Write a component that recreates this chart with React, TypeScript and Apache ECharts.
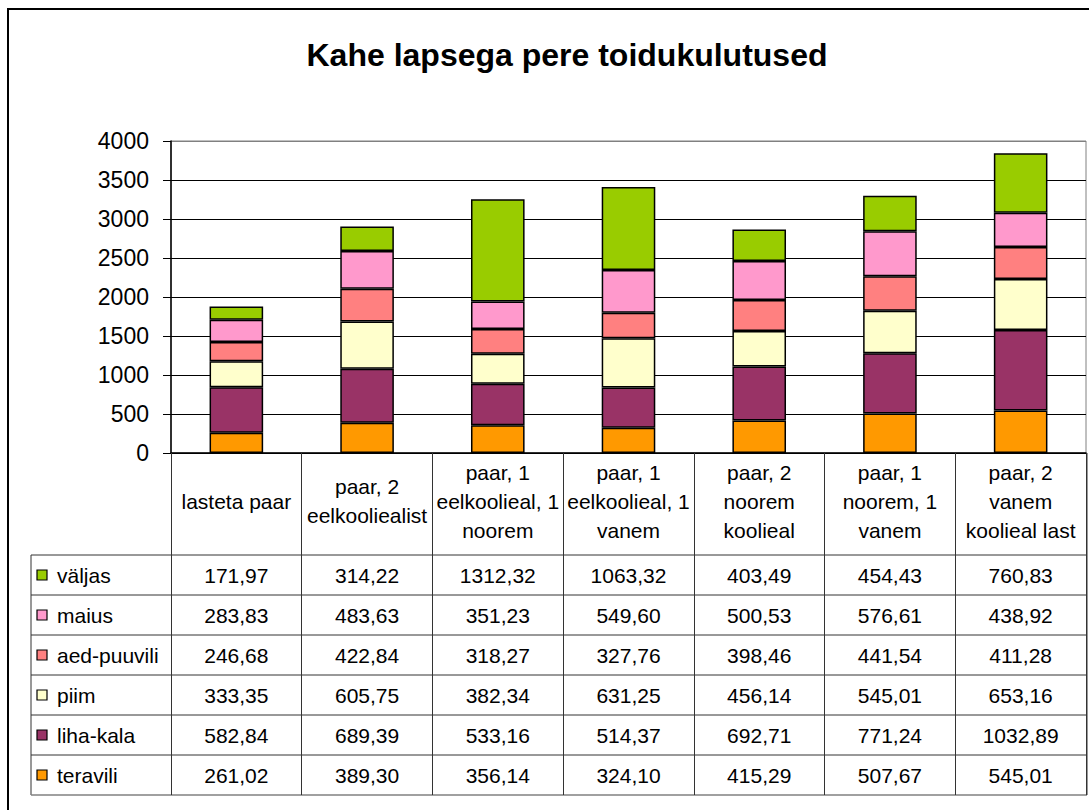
import React, { useEffect, useRef } from "react";
import * as echarts from "echarts";

const categories = [
  "lasteta paar",
  "paar, 2\neelkooliealist",
  "paar, 1\neelkoolieal, 1\nnoorem",
  "paar, 1\neelkoolieal, 1\nvanem",
  "paar, 2\nnoorem\nkoolieal",
  "paar, 1\nnoorem, 1\nvanem",
  "paar, 2\nvanem\nkoolieal last",
];
const teravili = [261.02, 389.3, 356.14, 324.1, 415.29, 507.67, 545.01];
const lihaKala = [582.84, 689.39, 533.16, 514.37, 692.71, 771.24, 1032.89];
const piim = [333.35, 605.75, 382.34, 631.25, 456.14, 545.01, 653.16];
const aedPuuvili = [246.68, 422.84, 318.27, 327.76, 398.46, 441.54, 411.28];
const maius = [283.83, 483.63, 351.23, 549.6, 500.53, 576.61, 438.92];
const valjas = [171.97, 314.22, 1312.32, 1063.32, 403.49, 454.43, 760.83];
const seriesNames = ["teravili", "liha-kala", "piim", "aed-puuvili", "maius", "väljas"];
const seriesData = [teravili, lihaKala, piim, aedPuuvili, maius, valjas];
const seriesColors = ["#FF9900", "#993366", "#FFFFCC", "#FF8080", "#FF99CC", "#99CC00"];
const yMin = 0;
const yMax = 4000;
const yInterval = 500;
const title = "Kahe lapsega pere toidukulutused";

const FONT = "'Liberation Sans', Arial, sans-serif";
const GRID_LEFT = 171;
const GRID_RIGHT_X = 1086;
const GRID_TOP = 141;
const GRID_BOTTOM_Y = 453;
const HEADER_BOTTOM = 555;
const ROW_H = 40;
const TABLE_LEFT = 31;
const TABLE_RIGHT = 1087;

const fmt = (v: number) => v.toFixed(2).replace(".", ",");

export default function App() {
  const ref = useRef<HTMLDivElement>(null);
  useEffect(() => {
    if (!ref.current) return;
    const chart = echarts.init(ref.current, undefined, { renderer: "svg" });
    const nSplit = (yMax - yMin) / yInterval + 1;
    const splitColors = Array.from({ length: nSplit }, (_, i) => (i === nSplit - 1 ? "#808080" : "#000000"));
    const tableBottom = HEADER_BOTTOM + ROW_H * seriesNames.length;
    chart.setOption({
      animation: false,
      backgroundColor: "#ffffff",
      title: {
        text: title,
        left: 562,
        top: 34,
        textAlign: "center",
        textStyle: { fontFamily: FONT, fontSize: 32, fontWeight: "bold", color: "#000" },
      },
      grid: {
        left: GRID_LEFT,
        right: 1089 - GRID_RIGHT_X,
        top: GRID_TOP,
        bottom: 810 - GRID_BOTTOM_Y,
        show: true,
        borderColor: "#808080",
        borderWidth: 1,
        backgroundColor: "transparent",
      },
      xAxis: {
        type: "category",
        data: categories,
        axisLine: { show: true, lineStyle: { color: "#000", width: 1.5 } },
        axisTick: {
          show: true,
          length: tableBottom - GRID_BOTTOM_Y,
          lineStyle: { color: "#333", width: 1 },
        },
        axisLabel: {
          interval: 0,
          fontFamily: FONT,
          fontSize: 21,
          lineHeight: 29,
          color: "#000",
          verticalAlign: "middle",
          margin: 48,
        },
        z: 3,
      },
      yAxis: {
        type: "value",
        min: yMin,
        max: yMax,
        interval: yInterval,
        axisLine: { show: true, lineStyle: { color: "#000", width: 1.5 } },
        axisTick: { show: true, inside: false, length: 8, lineStyle: { color: "#000" } },
        axisLabel: {
          fontFamily: FONT,
          fontSize: 23,
          color: "#000",
          margin: 22,
          formatter: (v: number) => String(v),
        },
        splitLine: { show: true, lineStyle: { color: splitColors, width: 1 } },
      },
      series: seriesNames.map((name, i) => ({
        name,
        type: "bar",
        stack: "total",
        data: seriesData[i],
        barWidth: "41%",
        itemStyle: { color: seriesColors[i], borderColor: "#000", borderWidth: 1.5 },
        z: 2,
      })),
    });

    const centers = categories.map((_, i) => chart.convertToPixel({ xAxisIndex: 0 }, i) as number);
    const graphics: any[] = [];
    graphics.push({
      type: "rect",
      shape: { x: 8, y: 9, width: 1200, height: 900 },
      style: { fill: "none", stroke: "#000", lineWidth: 2 },
      silent: true,
    });
    graphics.push({
      type: "line",
      shape: { x1: TABLE_LEFT, y1: HEADER_BOTTOM, x2: TABLE_LEFT, y2: tableBottom },
      style: { stroke: "#333", lineWidth: 1 },
    });
    for (let r = 0; r <= seriesNames.length; r++) {
      const y = HEADER_BOTTOM + r * ROW_H;
      graphics.push({
        type: "line",
        shape: { x1: TABLE_LEFT, y1: y, x2: TABLE_RIGHT, y2: y },
        style: { stroke: r === seriesNames.length ? "#808080" : "#333", lineWidth: r === seriesNames.length ? 1.5 : 1 },
      });
    }
    graphics.push({
      type: "line",
      shape: { x1: TABLE_RIGHT, y1: GRID_BOTTOM_Y, x2: TABLE_RIGHT, y2: tableBottom },
      style: { stroke: "#333", lineWidth: 1 },
    });
    const order = seriesNames.map((_, i) => seriesNames.length - 1 - i);
    order.forEach((si, r) => {
      const cy = HEADER_BOTTOM + r * ROW_H + ROW_H / 2;
      graphics.push({
        type: "rect",
        shape: { x: 37, y: cy - 5, width: 10, height: 10 },
        style: { fill: seriesColors[si], stroke: "#000", lineWidth: 1.2 },
      });
      graphics.push({
        type: "text",
        x: 57,
        y: cy,
        style: {
          text: seriesNames[si],
          fontFamily: FONT,
          fontSize: 21,
          fill: "#000",
          verticalAlign: "middle",
          align: "left",
        },
      });
      seriesData[si].forEach((v, ci) => {
        graphics.push({
          type: "text",
          x: centers[ci],
          y: cy,
          style: {
            text: fmt(v),
            fontFamily: FONT,
            fontSize: 21,
            fill: "#000",
            align: "center",
            verticalAlign: "middle",
          },
        });
      });
    });
    chart.setOption({ graphic: graphics });
    return () => chart.dispose();
  }, []);
  return (
    <div
      ref={ref}
      style={{ position: "absolute", left: 0, top: 0, width: 1089, height: 810, background: "#fff" }}
    />
  );
}
